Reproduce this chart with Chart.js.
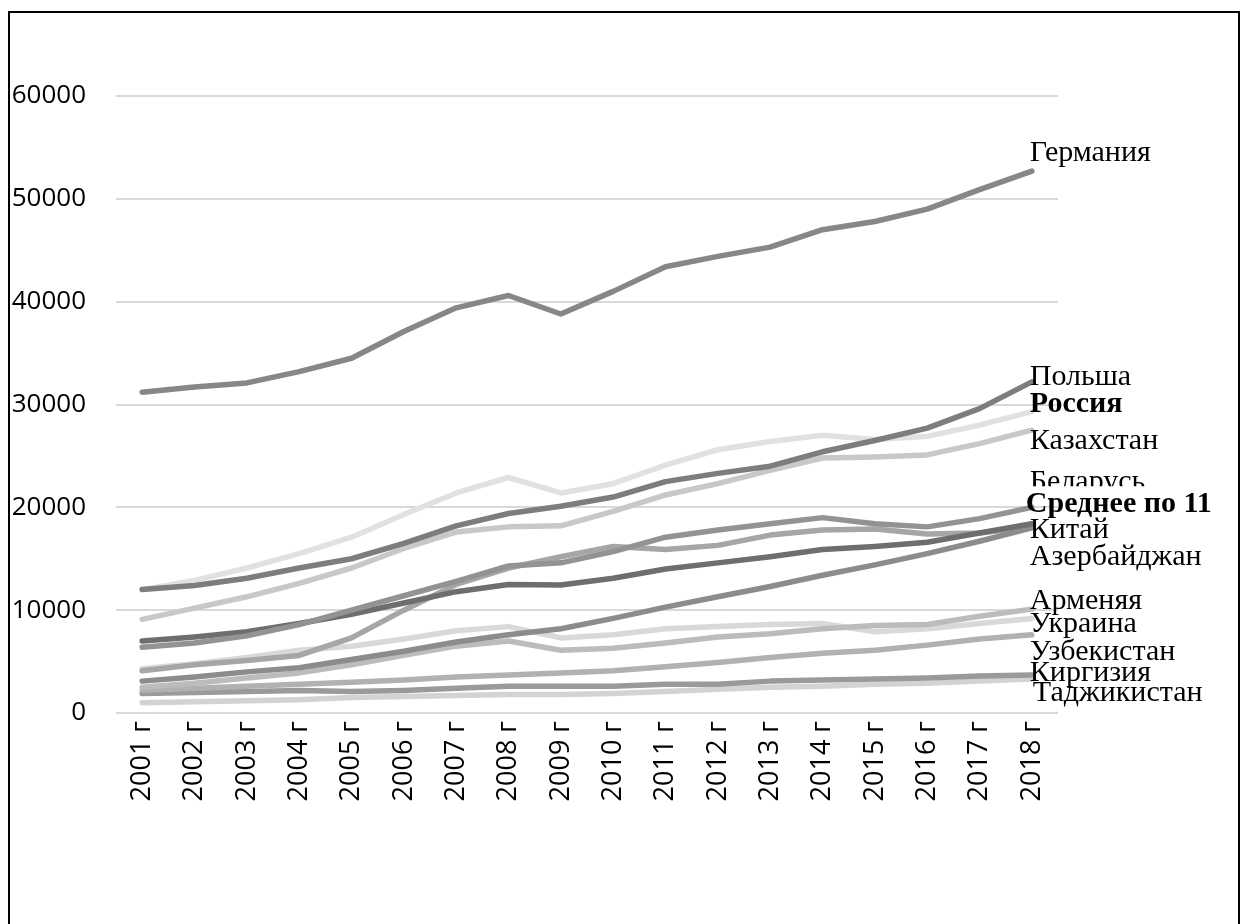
<!DOCTYPE html>
<html>
<head>
<meta charset="utf-8">
<script src="https://cdn.jsdelivr.net/npm/chart.js@4.4.1/dist/chart.umd.min.js"></script>
<style>
  html, body { margin: 0; padding: 0; background: #fff; overflow: hidden; }
  #wrap { position: relative; width: 1246px; height: 924px; }
  #frame { position: absolute; left: 8px; top: 11px; width: 1232px; height: 1000px; border: 2.5px solid #000; box-sizing: border-box; }
  canvas { position: absolute; left: 0; top: 0; }
</style>
</head>
<body>
<div id="wrap">
  <div id="frame"></div>
  <canvas id="chart" width="1246" height="924"></canvas>
</div>
<script>
// ВВП на душу населения по ППС, 2001-2018

let years = ['2001 г', '2002 г', '2003 г', '2004 г', '2005 г', '2006 г', '2007 г', '2008 г', '2009 г',
    '2010 г', '2011 г', '2012 г', '2013 г', '2014 г', '2015 г', '2016 г', '2017 г', '2018 г'];

let germany    = [31200, 31700, 32100, 33200, 34500, 37100, 39400, 40600, 38800, 41000, 43400, 44400, 45300, 47000, 47800, 49000, 50900, 52700];
let poland     = [12000, 12400, 13100, 14100, 15000, 16500, 18200, 19400, 20100, 21000, 22500, 23300, 24000, 25400, 26500, 27700, 29600, 32200];
let russia     = [12000, 12900, 14100, 15500, 17100, 19300, 21400, 22900, 21400, 22300, 24100, 25600, 26400, 27000, 26600, 26900, 28000, 29300];
let kazakhstan = [9100, 10200, 11300, 12600, 14100, 16000, 17600, 18100, 18200, 19600, 21200, 22300, 23600, 24800, 24900, 25100, 26200, 27500];
let belarus    = [6400, 6800, 7500, 8600, 10000, 11400, 12800, 14300, 14600, 15700, 17100, 17800, 18400, 19000, 18400, 18100, 18900, 20000];
let average11  = [7000, 7400, 7900, 8700, 9600, 10700, 11800, 12500, 12450, 13100, 14000, 14600, 15200, 15900, 16200, 16600, 17500, 18400];
let china      = [3100, 3500, 4000, 4400, 5200, 6000, 6900, 7600, 8200, 9200, 10300, 11300, 12300, 13400, 14400, 15500, 16700, 18000];
let azerbaijan = [4100, 4700, 5100, 5600, 7300, 10000, 12500, 14100, 15200, 16200, 15900, 16300, 17300, 17800, 17900, 17400, 17500, 18100];
let armenia    = [2500, 2900, 3400, 3900, 4700, 5600, 6500, 7000, 6100, 6300, 6800, 7400, 7700, 8200, 8500, 8600, 9400, 10100];
let ukraine    = [4300, 4800, 5400, 6100, 6500, 7200, 8000, 8400, 7300, 7600, 8200, 8400, 8600, 8700, 7900, 8200, 8700, 9200];
let uzbekistan = [2200, 2400, 2600, 2800, 3000, 3200, 3500, 3700, 3900, 4100, 4500, 4900, 5400, 5800, 6100, 6600, 7200, 7600];
let kyrgyzstan = [1900, 2000, 2100, 2200, 2100, 2200, 2400, 2600, 2600, 2600, 2800, 2800, 3100, 3200, 3300, 3400, 3600, 3700];
let tajikistan = [1000, 1100, 1200, 1300, 1500, 1600, 1700, 1800, 1800, 1900, 2100, 2300, 2500, 2600, 2800, 2900, 3100, 3300];

let yTicks = [0, 10000, 20000, 30000, 40000, 50000, 60000];

// подписи справа: текст, жирный, сдвиг по вертикали от последней точки
let series = [
    { name: 'Германия', data: germany, color: '#878787', bold: false, dy: -18 },
    { name: 'Польша', data: poland, color: '#7d7d7d', bold: false, dy: -5 },
    { name: 'Россия', data: russia, color: '#e1e1e1', bold: true, dy: -7 },
    { name: 'Казахстан', data: kazakhstan, color: '#c8c8c8', bold: false, dy: 11 },
    { name: 'Беларусь', data: belarus, color: '#939393', bold: false, dy: -25, cut: 4 },
    { name: 'Среднее по 11', data: average11, color: '#6e6e6e', bold: true, dy: -20, dx: -4 },
    { name: 'Китай', data: china, color: '#8c8c8c', bold: false, dy: 2 },
    { name: 'Азербайджан', data: azerbaijan, color: '#a6a6a6', bold: false, dy: 30 },
    { name: 'Арменяя', data: armenia, color: '#bcbcbc', bold: false, dy: -8 },
    { name: 'Украина', data: ukraine, color: '#d9d9d9', bold: false, dy: 6 },
    { name: 'Узбекистан', data: uzbekistan, color: '#b1b1b1', bold: false, dy: 17 },
    { name: 'Киргизия', data: kyrgyzstan, color: '#9a9a9a', bold: false, dy: -2 },
    { name: 'Таджикистан', data: tajikistan, color: '#d3d3d3', bold: false, dy: 14, dx: 3 }
];

let endLabels = {
    id: 'endLabels',
    afterDatasetsDraw(chart) {
        let ctx = chart.ctx;
        series.forEach(function (s, i) {
            let meta = chart.getDatasetMeta(i);
            let pt = meta.data[meta.data.length - 1];
            let x = pt.x - 2 + (s.dx || 0);
            let y = pt.y + s.dy;
            ctx.save();
            if (s.cut) {
                ctx.beginPath();
                ctx.rect(0, 0, chart.width, y + s.cut);
                ctx.clip();
            }
            ctx.font = (s.bold ? 'bold ' : '') + '30px "Liberation Serif", "Times New Roman", serif';
            ctx.fillStyle = '#000';
            ctx.textAlign = 'left';
            ctx.textBaseline = 'middle';
            ctx.fillText(s.name, x, y);
            ctx.restore();
        });
    }
};

let chart = new Chart(document.getElementById('chart'), {
    type: 'line',
    data: {
        labels: years,
        datasets: series.map(function (s) {
            return {
                label: s.name,
                data: s.data,
                borderColor: s.color,
                backgroundColor: s.color,
                borderWidth: 5.5,
                borderCapStyle: 'round',
                borderJoinStyle: 'round',
                pointRadius: 0,
                pointHoverRadius: 0,
                tension: 0,
                fill: false
            };
        })
    },
    options: {
        responsive: false,
        animation: false,
        events: [],
        layout: { padding: { top: 96, right: 188, bottom: 0, left: 0 } },
        plugins: {
            legend: { display: false },
            tooltip: { enabled: false },
            title: { display: false }
        },
        scales: {
            x: {
                offset: true,
                grid: { display: false, drawTicks: false },
                border: { display: false },
                ticks: {
                    minRotation: 90,
                    maxRotation: 90,
                    padding: 8,
                    color: '#000',
                    font: { family: '"Open Sans", sans-serif', size: 27 }
                },
                afterFit: function (scale) { scale.height = 211; }
            },
            y: {
                min: 0,
                max: 60000,
                afterBuildTicks: function (scale) {
                    scale.ticks = yTicks.map(function (v) { return { value: v }; });
                },
                grid: { color: '#d9d9d9', lineWidth: 2, drawTicks: false },
                border: { display: false },
                ticks: {
                    padding: 30,
                    color: '#000',
                    font: { family: '"Open Sans", sans-serif', size: 26 },
                    callback: function (v) { return String(v); }
                },
                afterFit: function (scale) { scale.width = 116; }
            }
        }
    },
    plugins: [endLabels]
});
</script>
</body>
</html>
